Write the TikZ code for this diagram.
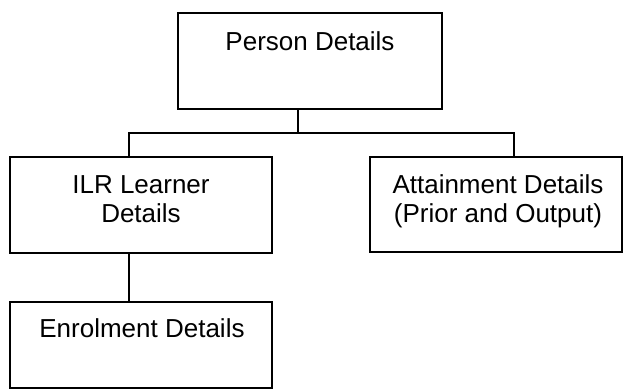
\documentclass[tikz,border=0pt]{standalone}
\usepackage{fontspec}
\setmainfont{Liberation Sans}
\begin{document}
\begin{tikzpicture}[x=1pt,y=-1pt,
  box/.style={draw, line width=1.6pt, inner sep=0pt, outer sep=0pt},
  lbl/.style={font=\fontsize{26}{30}\selectfont, anchor=base, inner sep=0pt},
  conn/.style={line width=1.6pt}]
\useasboundingbox (0,0) rectangle (625,391);
% boxes
\node[box, minimum width=264pt, minimum height=96pt] (person) at (310,61) {};
\node[box, minimum width=262pt, minimum height=96pt] (ilr) at (141,205) {};
\node[box, minimum width=252pt, minimum height=95pt] (att) at (496,204.5) {};
\node[box, minimum width=262pt, minimum height=86pt] (enr) at (141,345) {};
% labels
\node[lbl] (tperson) at (310,50) {Person Details};
\node[lbl] (tilr1) at (141,193) {ILR Learner};
\node[lbl] (tilr2) at (141,222) {Details};
\node[lbl] (tatt1) at (498,193) {Attainment Details};
\node[lbl] (tatt2) at (498,222) {(Prior and Output)};
\node[lbl] (tenr) at (142,337) {Enrolment Details};
% connectors
\draw[conn] ([xshift=-12pt]person.south) -- ++(0,24) coordinate (j);
\draw[conn] ([xshift=-12pt]ilr.north) -- ++(0,-24) -| ([xshift=18pt]att.north);
\draw[conn] ([xshift=-12pt]ilr.south) -- ([xshift=-12pt]enr.north);
\end{tikzpicture}
\end{document}
